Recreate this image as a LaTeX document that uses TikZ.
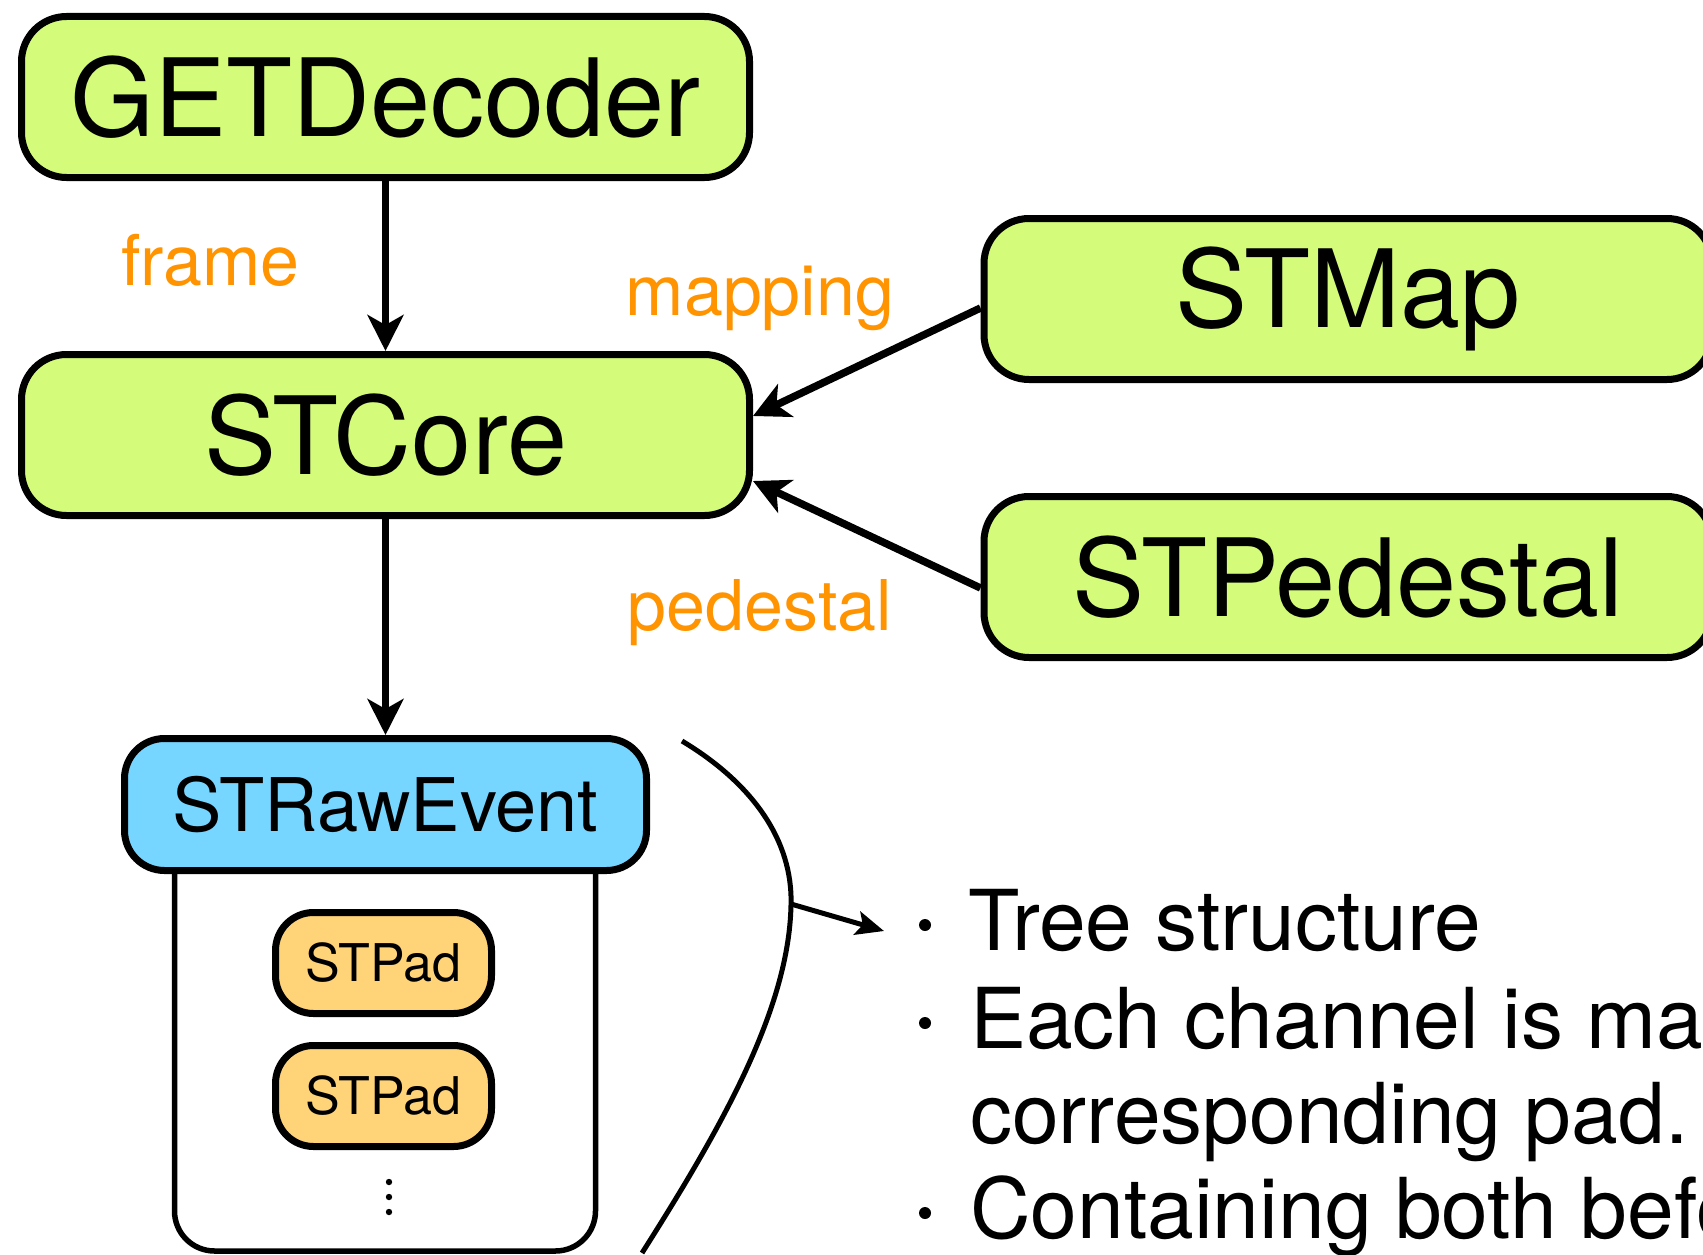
\documentclass[tikz,border=0pt]{standalone}
\usepackage{fontspec}
\setmainfont{TeX Gyre Heros}
\usetikzlibrary{arrows.meta}
\definecolor{boxgreen}{HTML}{D4FB79}
\definecolor{boxblue}{HTML}{76D6FF}
\definecolor{padorange}{HTML}{FFD479}
\definecolor{labelorange}{HTML}{FF9300}
\begin{document}
\begin{tikzpicture}[x=1pt,y=-1pt,
  mainbox/.style={draw=black, line width=7pt, rounded corners=45pt, fill=boxgreen,
    minimum width=728pt, minimum height=161pt, inner sep=0pt,
    font=\fontsize{108}{120}\selectfont},
  eventbox/.style={draw=black, line width=7pt, rounded corners=40pt, fill=boxblue,
    minimum width=522pt, minimum height=132pt, inner sep=0pt,
    font=\fontsize{74}{84}\selectfont},
  containerbox/.style={draw=black, line width=5.5pt, rounded corners=40pt, fill=white,
    minimum width=421pt, minimum height=448pt, inner sep=0pt},
  padbox/.style={draw=black, line width=7pt, rounded corners=38pt, fill=padorange,
    minimum width=216pt, minimum height=101pt, inner sep=0pt,
    font=\fontsize{52}{60}\selectfont},
  flowlabel/.style={text=labelorange, inner sep=0pt, font=\fontsize{70}{80}\selectfont},
  bullettext/.style={inner sep=0pt, anchor=base west, font=\fontsize{84}{96}\selectfont},
  arr/.style={line width=7.5pt, -{Stealth[length=36pt, width=36pt, inset=10pt]}},
  smallarr/.style={line width=5pt, -{Stealth[length=28pt, width=24pt, inset=6pt]}},
]
\clip (0,0) rectangle (1703,1255);
\useasboundingbox (0,0) rectangle (1703,1255);

% main boxes
\node[mainbox] (get) at (385.5,97) {GETDecoder};
\node[mainbox] (core) at (385.5,435) {STCore};
\node[mainbox] (map) at (1348,299) {STMap};
\node[mainbox] (ped) at (1348,577) {STPedestal};

% event container
\node[containerbox] (cont) at (385,1027) {};
\node[eventbox] (event) at (385.5,804.5) {STRawEvent};
\node[padbox] (pad1) at (383.5,963) {STPad};
\node[padbox] (pad2) at (383.5,1096) {STPad};
\fill (389,1182) circle (3.2);
\fill (389,1197) circle (3.2);
\fill (389,1212) circle (3.2);

% connectors
\draw[arr] (get.south) -- (core.north);
\draw[arr] (core.south) -- (event.north);
\draw[arr] ([yshift=-9pt]map.west) -- ([yshift=19pt]core.east);
\draw[arr] ([yshift=-11pt]ped.west) -- ([yshift=-46pt]core.east);

% labels
\node[flowlabel, anchor=base west] (lframe) at (121,285) {frame};
\node[flowlabel, anchor=base] (lmap) at (760,315) {mapping};
\node[flowlabel, anchor=base] (lped) at (760,630) {pedestal};

% bracket curve
\draw[line width=5pt] (682,741) .. controls (752,783) and (793,840) .. (791,905)
  .. controls (789,1010) and (720,1130) .. (642,1253);
\coordinate (cstart) at (791,904);
\coordinate (cend) at (884,931);
\draw[smallarr] (cstart) -- (cend);

% bullet list
\fill (925,925) circle (6);
\fill (925,1023) circle (6);
\fill (925,1213) circle (6);
\node[bullettext] (t1) at (968,950) {Tree structure};
\node[bullettext] (t2) at (970,1048) {Each channel is map};
\node[bullettext] (t2b) at (970,1143) {corresponding pad.};
\node[bullettext] (t3) at (970,1238) {Containing both befo};
\end{tikzpicture}
\end{document}
